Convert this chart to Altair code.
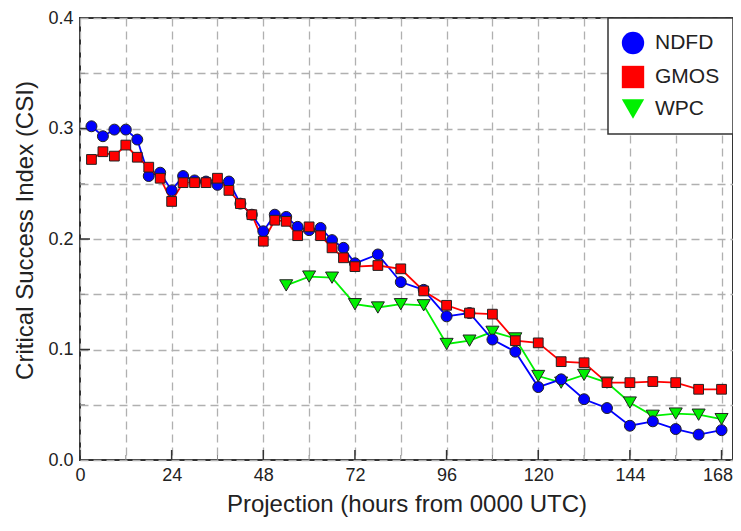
import altair as alt
import pandas as pd

# ---- data ----
hours_main = [3, 6, 9, 12, 15, 18, 21, 24, 27, 30, 33, 36, 39, 42, 45, 48, 51, 54,
              57, 60, 63, 66, 69, 72, 78, 84, 90, 96, 102, 108, 114, 120, 126, 132,
              138, 144, 150, 156, 162, 168]
ndfd = [0.302, 0.293, 0.299, 0.299, 0.290, 0.257, 0.260, 0.244, 0.257, 0.253, 0.252,
        0.249, 0.252, 0.232, 0.222, 0.207, 0.222, 0.220, 0.211, 0.208, 0.210, 0.199,
        0.192, 0.178, 0.186, 0.161, 0.154, 0.130, 0.133, 0.109, 0.098, 0.066, 0.073,
        0.055, 0.047, 0.031, 0.035, 0.028, 0.023, 0.027]
gmos = [0.272, 0.279, 0.275, 0.285, 0.274, 0.265, 0.255, 0.234, 0.251, 0.251, 0.251,
        0.255, 0.244, 0.232, 0.222, 0.198, 0.217, 0.216, 0.203, 0.211, 0.203, 0.192,
        0.183, 0.175, 0.176, 0.173, 0.153, 0.140, 0.133, 0.132, 0.108, 0.106, 0.089,
        0.088, 0.070, 0.070, 0.071, 0.070, 0.064, 0.064]
hours_wpc = [54, 60, 66, 72, 78, 84, 90, 96, 102, 108, 114, 120, 126, 132, 138, 144,
             150, 156, 162, 168]
wpc = [0.158, 0.166, 0.165, 0.141, 0.138, 0.141, 0.140, 0.105, 0.108, 0.116, 0.110,
       0.076, 0.070, 0.077, 0.070, 0.052, 0.040, 0.042, 0.041, 0.037]

series_names = ["NDFD", "GMOS", "WPC"]
series_colors = ["#0000ff", "#ff0000", "#00f000"]
series_shapes = ["circle", "square", "triangle-down"]
series_sizes = {"NDFD": 120, "GMOS": 95, "WPC": 170}
color_of = dict(zip(series_names, series_colors))

x_grid_values = list(range(0, 169, 12))
x_major_ticks = list(range(0, 169, 24))
x_minor_ticks = list(range(12, 169, 24))
y_grid_values = [round(i * 0.05, 2) for i in range(0, 9)]
y_major_ticks = [0.1, 0.2, 0.3]
y_minor_ticks = [0.05, 0.15, 0.25, 0.35]

frames = {
    "WPC": pd.DataFrame({"hour": hours_wpc, "csi": wpc, "series": "WPC"}),
    "NDFD": pd.DataFrame({"hour": hours_main, "csi": ndfd, "series": "NDFD"}),
    "GMOS": pd.DataFrame({"hour": hours_main, "csi": gmos, "series": "GMOS"}),
}

PLOT_W, PLOT_H = 653, 442
FONT = "Liberation Sans"

x_scale = alt.Scale(domain=[0, 171], nice=False, zero=True)
y_scale = alt.Scale(domain=[0, 0.4], nice=False)
fill_scale = alt.Scale(domain=series_names, range=series_colors)
shape_scale = alt.Scale(domain=series_names, range=series_shapes)

x_axis = alt.Axis(values=x_grid_values,
                  labelExpr="datum.value % 24 == 0 ? datum.label : ''",
                  grid=True, gridDash=[8, 5], gridColor="#b0b0b0", gridWidth=1.3,
                  tickSize=0, domain=False, labelPadding=6, labelFlush=False,
                  labelOffset=alt.condition("datum.value == 168", alt.value(-4), alt.value(0)),
                  labelFontSize=18, labelColor="#222", labelFont=FONT,
                  title="Projection (hours from 0000 UTC)", titleFontSize=24,
                  titleFontWeight="normal", titleColor="#222", titleFont=FONT,
                  titleY=44, titleBaseline="middle")
y_axis = alt.Axis(values=y_grid_values,
                  labelExpr="round(datum.value*100) % 10 == 0 ? format(datum.value, '.1f') : ''",
                  grid=True, gridDash=[8, 5], gridColor="#b0b0b0", gridWidth=1.3,
                  tickSize=0, domain=False, labelPadding=7,
                  labelFontSize=18, labelColor="#222", labelFont=FONT,
                  title="Critical Success Index (CSI)", titleFontSize=24,
                  titleFontWeight="normal", titleColor="#222", titleFont=FONT,
                  titleX=-55, titleY=212, titleAngle=-90, titleAlign="center",
                  titleBaseline="middle")

line_layers = []
for i, name in enumerate(["WPC", "NDFD", "GMOS"]):
    enc_x = alt.X("hour:Q", scale=x_scale, axis=x_axis if i == 0 else alt.Axis())
    enc_y = alt.Y("csi:Q", scale=y_scale, axis=y_axis if i == 0 else alt.Axis())
    line_layers.append(
        alt.Chart(frames[name]).mark_line(strokeWidth=1.8, color=color_of[name]).encode(
            x=enc_x, y=enc_y)
    )

point_layers = []
for name in ["WPC", "NDFD", "GMOS"]:
    point_layers.append(
        alt.Chart(frames[name]).mark_point(
            filled=True, stroke="#222", strokeWidth=1, opacity=1, size=series_sizes[name]
        ).encode(
            x=alt.X("hour:Q", scale=x_scale),
            y=alt.Y("csi:Q", scale=y_scale),
            fill=alt.Fill("series:N", scale=fill_scale, title=None),
            shape=alt.Shape("series:N", scale=shape_scale, title=None),
        )
    )

# inward tick marks
xt_major = pd.DataFrame({"t": x_major_ticks})
xt_minor = pd.DataFrame({"t": x_minor_ticks})
yt_major = pd.DataFrame({"t": y_major_ticks})
yt_minor = pd.DataFrame({"t": y_minor_ticks})

xmaj = alt.Chart(xt_major).mark_rule(color="#333", strokeWidth=1.5).encode(
    x=alt.X("t:Q", scale=x_scale), y=alt.value(PLOT_H), y2=alt.value(PLOT_H - 10))
xmin = alt.Chart(xt_minor).mark_rule(color="#888", strokeWidth=1).encode(
    x=alt.X("t:Q", scale=x_scale), y=alt.value(PLOT_H), y2=alt.value(PLOT_H - 5))
ymaj = alt.Chart(yt_major).mark_rule(color="#333", strokeWidth=1.5).encode(
    y=alt.Y("t:Q", scale=y_scale), x=alt.value(0), x2=alt.value(10))
ymin = alt.Chart(yt_minor).mark_rule(color="#888", strokeWidth=1).encode(
    y=alt.Y("t:Q", scale=y_scale), x=alt.value(0), x2=alt.value(5))

chart = alt.layer(*line_layers, xmaj, xmin, ymaj, ymin, *point_layers).properties(
    width=PLOT_W, height=PLOT_H,
    autosize=alt.AutoSizeParams(type="none"),
    padding={"left": 72, "top": 10, "right": 0, "bottom": 60},
).configure_view(
    stroke="#333", strokeWidth=2
).configure_legend(
    orient="top-right", offset=0, strokeColor="#333", strokeWidth=1.5,
    fillColor="white", padding=13, symbolSize=500, symbolStrokeColor="#222",
    symbolStrokeWidth=1, labelFontSize=21, labelFont=FONT, labelColor="#222",
    rowPadding=6, labelOffset=10, symbolOpacity=1,
)

chart.save("out.html", embed_options={"renderer": "svg", "actions": False})
